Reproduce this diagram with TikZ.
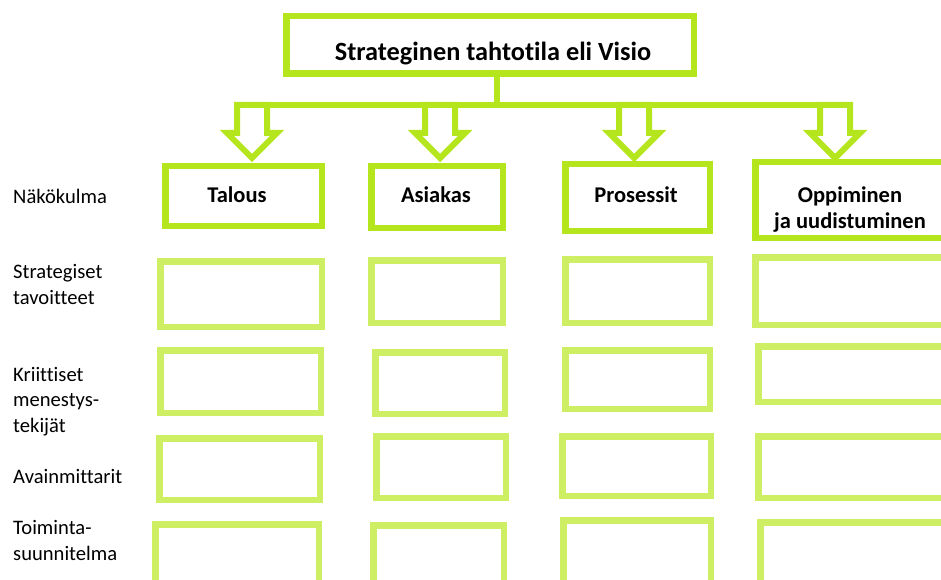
\documentclass[tikz,border=0pt]{standalone}
\usepackage{fontspec}
\setmainfont[Ligatures=NoCommon]{Carlito}
\usetikzlibrary{calc}
\definecolor{limeD}{RGB}{181,230,29}
\definecolor{limeL}{RGB}{206,238,100}
\newcommand\mkbox[6]{\node[#1,minimum width={#4-#2-6.5},minimum height={#5-#3-6.5}] (#6) at ({(#2+#4)/2},{(#3+#5)/2}) {};}
\newcommand\blockarrow[1]{\draw[arr] (#1) ++(-15,0) -- ++(0,28) -- ++(-10,0) -- ++(25,25) -- ++(25,-25) -- ++(-10,0) -- ++(0,-28) -- cycle;}
\begin{document}
\begin{tikzpicture}[x=1pt,y=-1pt,
  dbox/.style={draw=limeD,line width=6.5pt,inner sep=0pt,rectangle},
  lbox/.style={draw=limeL,line width=6.5pt,inner sep=0pt,rectangle},
  arr/.style={draw=limeD,line width=6pt,line join=miter,fill=white},
  bus/.style={draw=limeD,line width=6.5pt},
  title/.style={font=\fontsize{26.3}{30}\selectfont\bfseries,inner sep=0pt},
  head/.style={font=\fontsize{22.5}{26}\selectfont\bfseries,inner sep=0pt,align=center},
  lab/.style={font=\fontsize{20.6}{25.5}\selectfont,inner sep=0pt,align=left,anchor=base west}]
\useasboundingbox (0,0) rectangle (941,580);
\clip (0,0) rectangle (941,580);
% top box
\mkbox{dbox}{283}{13}{697}{77}{top}
\node[title,anchor=base] (toptxt) at (493,61) {Strateginen tahtotila eli Visio};
% bus
\coordinate (bs) at (497,105);
\coordinate (b1) at (252,105);
\coordinate (b2) at (440,105);
\coordinate (b3) at (634,105);
\coordinate (b4) at (835,105);
\draw[bus] (top.south -| bs) -- (bs);
\draw[bus] ($(b1)+(-15,0)$) -- ($(b4)+(15,0)$);
% header boxes
\mkbox{dbox}{162}{163}{325}{229}{h1}
\mkbox{dbox}{368}{163}{506}{231}{h2}
\mkbox{dbox}{562}{161}{713}{234}{h3}
\mkbox{dbox}{752}{159}{960}{241}{h4}
\blockarrow{b1}
\blockarrow{b2}
\blockarrow{b3}
\blockarrow{b4}
\node[head,anchor=base] (t1) at (237,202) {Talous};
\node[head,anchor=base] (t2) at (436,202) {Asiakas};
\node[head,anchor=base] (t3) at (636,202) {Prosessit};
\node[head,anchor=base] (t4) at (850,228) {Oppiminen\\ja uudistuminen};
% row 2
\mkbox{lbox}{157}{258}{325}{330}{r2a}
\mkbox{lbox}{368}{257}{506}{326}{r2b}
\mkbox{lbox}{562}{256}{713}{326}{r2c}
\mkbox{lbox}{752}{254}{960}{328}{r2d}
% row 3
\mkbox{lbox}{157}{347}{324}{416}{r3a}
\mkbox{lbox}{372}{349}{508}{417}{r3b}
\mkbox{lbox}{562}{347}{713}{412}{r3c}
\mkbox{lbox}{755}{343}{960}{405}{r3d}
% row 4
\mkbox{lbox}{156}{435}{323}{503}{r4a}
\mkbox{lbox}{373}{433}{509}{501}{r4b}
\mkbox{lbox}{559}{433}{714}{499}{r4c}
\mkbox{lbox}{755}{433}{960}{501}{r4d}
% row 5
\mkbox{lbox}{152}{521}{322}{620}{r5a}
\mkbox{lbox}{370}{522}{507}{620}{r5b}
\mkbox{lbox}{560}{517}{714}{620}{r5c}
\mkbox{lbox}{757}{519}{960}{620}{r5d}
% labels (base anchor = last line)
\node[lab] (l1) at (13,203) {Näkökulma};
\node[lab] (l2) at (13,304) {Strategiset\\tavoitteet};
\node[lab] (l3) at (13,432) {Kriittiset\\menestys-\\tekijät};
\node[lab] (l4) at (13,483) {Avainmittarit};
\node[lab] (l5) at (13,560) {Toiminta-\\suunnitelma};
\end{tikzpicture}
\end{document}
